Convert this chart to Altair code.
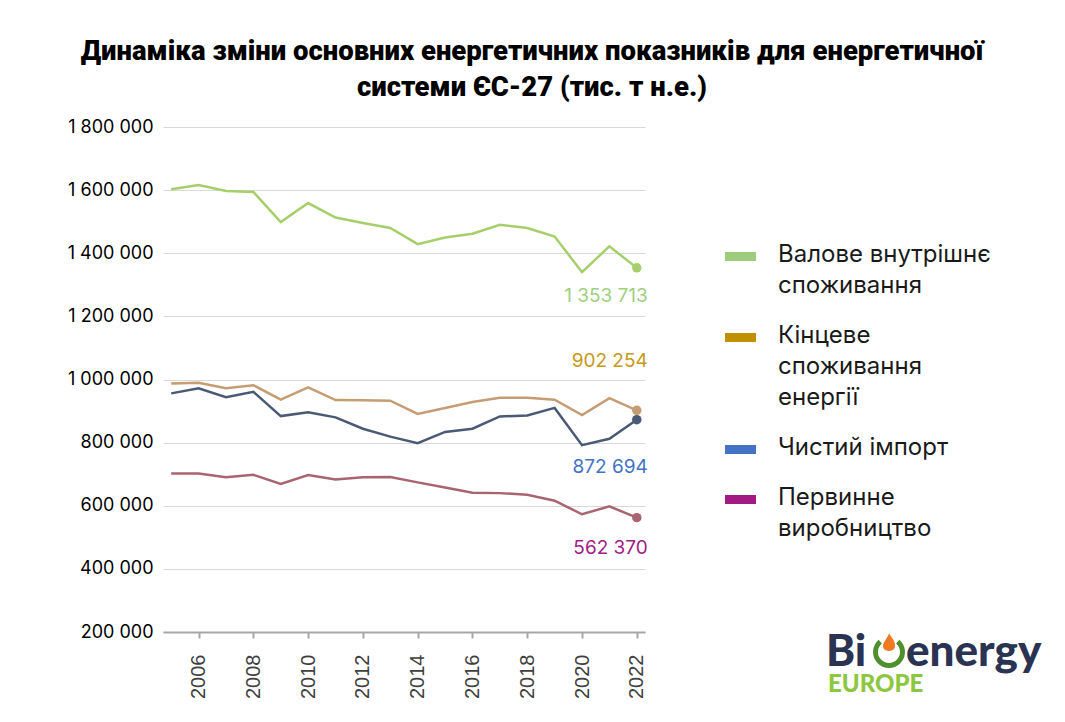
import altair as alt
import pandas as pd

# ---------------- data ----------------
years = list(range(2005, 2023))
series_names = [
    "Валове внутрішнє споживання",
    "Кінцеве споживання енергії",
    "Чистий імпорт",
    "Первинне виробництво",
]
gross_inland = [1603000, 1616000, 1597000, 1594000, 1499000, 1559000, 1513000, 1496000, 1480000,
                1429000, 1450000, 1462000, 1490000, 1480000, 1453000, 1340000, 1422000, 1353713]
final_consumption = [987000, 990000, 972000, 982000, 936000, 975000, 935000, 934000, 933000,
                     891000, 910000, 929000, 942000, 942000, 936000, 887000, 941000, 902254]
net_import = [956000, 972000, 944000, 961000, 884000, 896000, 880000, 844000, 819000,
              798000, 834000, 844000, 883000, 886000, 910000, 792000, 812000, 872694]
primary_production = [702000, 702000, 690000, 698000, 669000, 697000, 683000, 690000, 691000,
                      674000, 658000, 641000, 640000, 635000, 616000, 573000, 598000, 562370]
all_series = [gross_inland, final_consumption, net_import, primary_production]

legend_lines = [["Валове внутрішнє", "споживання"],
                ["Кінцеве", "споживання", "енергії"],
                ["Чистий імпорт"],
                ["Первинне", "виробництво"]]
title_lines = ["Динаміка зміни основних енергетичних показників для енергетичної",
               "системи ЄС-27 (тис. т н.е.)"]
y_ticks = [200000, 400000, 600000, 800000, 1000000, 1200000, 1400000, 1600000, 1800000]
x_ticks = list(range(2006, 2023, 2))

# ---------------- style ----------------
line_colors = ["#a6cf6b", "#c69c72", "#4b5a74", "#a8646f"]
label_colors = ["#9fd07e", "#c4991a", "#4472c4", "#a21c85"]
legend_colors = ["#9ccc7c", "#bf9000", "#4472c4", "#a31b82"]
label_dy = [28, -49, 47, 30]

OX, OY = 163, 127          # plot origin in page pixels
W, H = 482, 505


def px(x):
    return x - OX


def py(y):
    return y - OY


rows = []
for name, vals in zip(series_names, all_series):
    for yr, v in zip(years, vals):
        rows.append({"series": name, "year": yr, "value": v})
df = pd.DataFrame(rows)
last = df[df["year"] == years[-1]].copy()
last["label"] = last["value"].map(lambda v: f"{v:,}".replace(",", " "))

xscale = alt.Scale(domain=[2004.7, 2022.3], nice=False, zero=False)
yscale = alt.Scale(domain=[200000, 1800000], nice=False, zero=False)
cscale = alt.Scale(domain=series_names, range=line_colors)

base = alt.Chart(df)

lines = base.mark_line(strokeWidth=2.5).encode(
    x=alt.X("year:Q", scale=xscale,
            axis=alt.Axis(values=x_ticks, format="d", labelAngle=270, grid=False,
                          domainColor="#a6a6a6", domainWidth=2, tickColor="#a6a6a6",
                          tickWidth=2, tickSize=6, labelPadding=16, labelFontSize=20,
                          labelFont="Liberation Sans", labelColor="#404040", title=None)),
    y=alt.Y("value:Q", scale=yscale,
            axis=alt.Axis(values=y_ticks, domain=False, ticks=False, gridColor="#d9d9d9",
                          labelExpr="replace(format(datum.value, ','), /,/g, ' ')",
                          labelFontSize=18, labelFont="Inter", labelColor="#000000",
                          labelPadding=10, title=None)),
    color=alt.Color("series:N", scale=cscale, legend=None),
)

points = alt.Chart(last).mark_circle(size=90, opacity=1).encode(
    x=alt.X("year:Q", scale=xscale),
    y=alt.Y("value:Q", scale=yscale),
    color=alt.Color("series:N", scale=cscale, legend=None),
)

layers = [lines, points]

for name, col, dy in zip(series_names, label_colors, label_dy):
    layers.append(
        alt.Chart(last[last["series"] == name]).mark_text(
            align="right", baseline="middle", dx=11, dy=dy, fontSize=19,
            font="Inter", color=col
        ).encode(x=alt.X("year:Q", scale=xscale), y=alt.Y("value:Q", scale=yscale),
                 text="label:N")
    )

one = pd.DataFrame({"k": [0]})

# title
layers.append(
    alt.Chart(one).mark_text(
        text=title_lines, align="center", baseline="alphabetic", lineHeight=36,
        font="Roboto", fontWeight=900, fontSize=27.5, color="#000000"
    ).encode(x=alt.value(px(532)), y=alt.value(py(60)))
)

# legend
base_y = 262
for lines_txt, col in zip(legend_lines, legend_colors):
    layers.append(
        alt.Chart(one).mark_rect(color=col).encode(
            x=alt.value(px(725)), x2=alt.value(px(756)),
            y=alt.value(py(base_y - 10)), y2=alt.value(py(base_y - 1)))
    )
    layers.append(
        alt.Chart(one).mark_text(
            text=lines_txt, align="left", baseline="alphabetic", lineHeight=31,
            font="Inter", fontSize=24, color="#1a1a1a"
        ).encode(x=alt.value(px(778)), y=alt.value(py(base_y)))
    )
    base_y += len(lines_txt) * 31 + 19

# logo
navy = "#2b3352"
layers.append(alt.Chart(one).mark_text(
    text="Bi", align="left", baseline="alphabetic", font="Lato", fontWeight=900,
    fontSize=44, color=navy).encode(x=alt.value(px(826)), y=alt.value(py(666))))
layers.append(alt.Chart(one).mark_arc(
    innerRadius=11, outerRadius=16, theta=0.7, theta2=5.58, color="#4f8f2e").encode(
    x=alt.value(px(889)), y=alt.value(py(652))))
layers.append(alt.Chart(one).mark_point(
    shape="M0,-1.3C0.5,-0.6 0.9,-0.1 0.7,0.5C0.5,1 -0.5,1 -0.7,0.5C-0.9,-0.1 -0.3,-0.5 0,-1.3Z",
    size=260, filled=True, opacity=1, color="#f07a22").encode(
    x=alt.value(px(889)), y=alt.value(py(644))))
layers.append(alt.Chart(one).mark_text(
    text="energy", align="left", baseline="alphabetic", font="Lato", fontWeight=900,
    fontSize=44, color=navy).encode(x=alt.value(px(906)), y=alt.value(py(666))))
layers.append(alt.Chart(one).mark_text(
    text="EUROPE", align="left", baseline="alphabetic", font="Lato", fontWeight=900,
    fontSize=24, color="#8dc63f").encode(x=alt.value(px(828)), y=alt.value(py(692))))

chart = alt.layer(*layers).properties(
    width=W, height=H,
    autosize=alt.AutoSizeParams(type="none"),
    padding={"left": OX, "top": OY, "right": 1065 - OX - W, "bottom": 722 - OY - H},
    background="#ffffff",
).configure_view(stroke=None)

chart.save("out.html", embed_options={"renderer": "svg", "actions": False})
